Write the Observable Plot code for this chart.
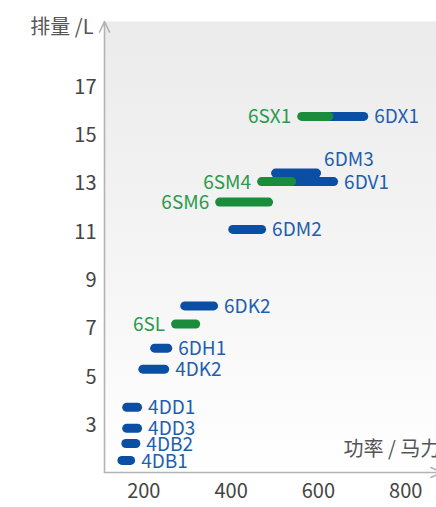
<!DOCTYPE html>
<html>
<head>
<meta charset="utf-8">
<script src="https://cdn.jsdelivr.net/npm/d3@7"></script>
<script src="https://cdn.jsdelivr.net/npm/@observablehq/plot@0.6"></script>
<style>
  html, body { margin: 0; padding: 0; background: #fff; overflow: hidden; }
  #chart svg { display: block; max-width: none !important; width: 445px !important; height: 507px !important; }
</style>
</head>
<body>
<div id="chart"></div>
<script>
// ---- data ----
const names        = ["4DB1", "4DB2", "4DD3", "4DD1", "4DK2", "6DH1", "6SL", "6DK2", "6DM2", "6SM6", "6SM4", "6DV1", "6DM3", "6SX1", "6DX1"];
const series       = ["D",    "D",    "D",    "D",    "D",    "D",    "S",   "D",    "D",    "S",    "S",    "D",    "D",    "S",    "D"];
const displacement = [1.55,   2.25,   2.88,   3.75,   5.33,   6.2,    7.2,   7.95,   11.12,  12.25,  13.1,   13.1,   13.45,  15.8,   15.8];
const powerMin     = [151,    160,    162,    162,    199,    226,    274,   295,    405,    375,    471,    520,    503,    563,    600];
const powerMax     = [171,    183,    187,    187,    249,    256,    320,   361,    471,    487,    540,    636,    597,    625,    705];
const xTicks = [200, 400, 600, 800];
const yTicks = [3, 5, 7, 9, 11, 13, 15, 17];
const xTitle = "功率 / 马力";
const yTitle = "排量 /L";

const rows = names.map((n, i) => ({name: n, series: series[i], y: displacement[i], x1: powerMin[i], x2: powerMax[i]}));

const BLUE = "#0a4fa3", BLUE_TEXT = "#1f5fae";
const GREEN = "#1a8c3b", GREEN_TEXT = "#2c9a4c";
const AXIS = "#b3b3b3";
const xDomain = [110, 882];
const yDomain = [1.05, 19.73];

const defs = () => {
  const ns = "http://www.w3.org/2000/svg";
  const d = document.createElementNS(ns, "defs");
  const g = document.createElementNS(ns, "linearGradient");
  g.setAttribute("id", "bgGrad");
  g.setAttribute("x1", "0"); g.setAttribute("y1", "0");
  g.setAttribute("x2", "0"); g.setAttribute("y2", "1");
  [["0%", "#ebebeb"], ["55%", "#f5f5f5"], ["100%", "#ffffff"]].forEach(([o, c]) => {
    const s = document.createElementNS(ns, "stop");
    s.setAttribute("offset", o); s.setAttribute("stop-color", c);
    g.appendChild(s);
  });
  d.appendChild(g);
  return d;
};

const blueRows = rows.filter(d => d.series === "D");
const greenRows = rows.filter(d => d.series === "S");

const chart = Plot.plot({
  width: 445,
  height: 507,
  marginLeft: 104,
  marginRight: 4,
  marginTop: 21,
  marginBottom: 35,
  style: {fontFamily: "'Noto Sans CJK SC', 'Noto Sans', sans-serif", background: "transparent", overflow: "visible"},
  x: {domain: xDomain, label: null},
  y: {domain: yDomain, label: null},
  marks: [
    defs,
    Plot.frame({fill: "url(#bgGrad)", stroke: "none"}),
    Plot.axisY({ticks: yTicks, tickSize: 0, tickPadding: 8, fontSize: 20, color: "#444", label: null}),
    Plot.axisX({ticks: xTicks, tickSize: 0, tickPadding: 11, fontSize: 20, color: "#444", label: null}),
    Plot.arrow([{x: xDomain[0], y1: yDomain[0], y2: yDomain[1]}], {
      x1: "x", x2: "x", y1: "y1", y2: "y2", stroke: AXIS, strokeWidth: 1.6, headLength: 11, headAngle: 50
    }),
    Plot.arrow([{y: yDomain[0], x1: xDomain[0], x2: xDomain[1]}], {
      y1: "y", y2: "y", x1: "x1", x2: "x2", stroke: AXIS, strokeWidth: 1.6, headLength: 11, headAngle: 50
    }),
    Plot.ruleY(blueRows, {y: "y", x1: "x1", x2: "x2", stroke: BLUE, strokeWidth: 9, strokeLinecap: "round"}),
    Plot.ruleY(greenRows, {y: "y", x1: "x1", x2: "x2", stroke: GREEN, strokeWidth: 9, strokeLinecap: "round"}),
    Plot.text(blueRows.filter(d => d.name !== "6DM3"), {
      x: "x2", y: "y", text: "name", fill: BLUE_TEXT, textAnchor: "start", dx: 10, dy: 1, fontSize: 19
    }),
    Plot.text(blueRows.filter(d => d.name === "6DM3"), {
      x: "x2", y: "y", text: "name", fill: BLUE_TEXT, textAnchor: "start", dx: 7, dy: -13, fontSize: 19
    }),
    Plot.text(greenRows, {
      x: "x1", y: "y", text: "name", fill: GREEN_TEXT, textAnchor: "end", dx: -11, dy: 1, fontSize: 19
    }),
    Plot.text([yTitle], {
      text: d => d, frameAnchor: "top-left", textAnchor: "end", lineAnchor: "middle",
      dx: -11, dy: 6, fontSize: 20, fill: "#555"
    }),
    Plot.text([xTitle], {
      text: d => d, frameAnchor: "bottom-right", textAnchor: "start", lineAnchor: "middle",
      dx: -98, dy: -23, fontSize: 20, fill: "#555"
    })
  ]
});

document.getElementById("chart").appendChild(chart);
</script>
</body>
</html>
